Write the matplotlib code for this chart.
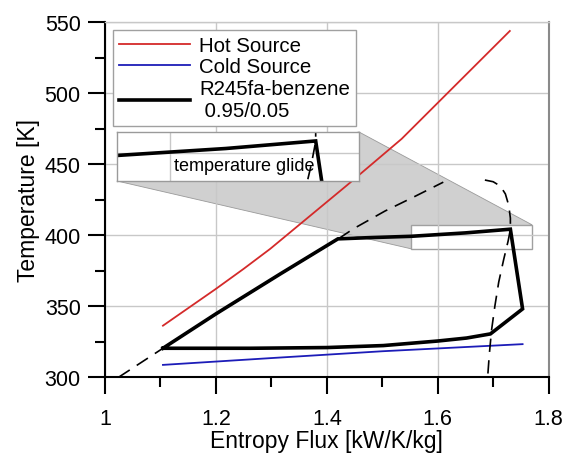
import numpy as np
import matplotlib
matplotlib.use("Agg")
from matplotlib import pyplot as plt
from matplotlib.patches import Polygon, Rectangle
from matplotlib.ticker import MultipleLocator

plt.rcParams['font.family'] = ['Liberation Sans', 'DejaVu Sans']

# hot source (red)
hot_s = [1.1045, 1.2, 1.25, 1.298, 1.436, 1.535, 1.73]
hot_t = [336.3, 362.2, 376.3, 390.4, 435.0, 467.8, 543.7]

# cold source (blue)
cold_s = [1.1045, 1.3, 1.5, 1.753]
cold_t = [308.7, 313.5, 318.3, 323.3]

# R245fa-benzene cycle
cyc_s = [1.1045, 1.2, 1.316, 1.42, 1.48, 1.552, 1.65, 1.731, 1.753, 1.695,
         1.652, 1.6, 1.502, 1.4, 1.262, 1.1045]
cyc_t = [320.4, 344.6, 372.7, 397.4, 398.3, 399.2, 401.6, 404.2, 348.1, 330.5,
         327.6, 325.5, 322.3, 320.9, 320.4, 320.4]

# saturation dome: liquid side and vapour side
liq_s = [1.0245, 1.1045, 1.2, 1.316, 1.42, 1.448, 1.505, 1.56, 1.61]
liq_t = [300.0, 320.4, 344.4, 372.5, 397.2, 404.5, 417.0, 427.5, 437.3]
vap_s = [1.685, 1.700, 1.713, 1.722, 1.728, 1.731, 1.731, 1.727, 1.719,
         1.710, 1.703, 1.697, 1.693, 1.690]
vap_t = [438.8, 437.6, 434.5, 429.0, 421.0, 412.0, 404.0, 396.0, 383.0,
         367.0, 350.0, 333.0, 316.0, 300.0]

zoom_x = (1.552, 1.770)
zoom_y = (390.4, 407.3)

red = '#d42a2a'
blue = '#1c1cb8'
grid_c = '#c8c8c8'

fig = plt.figure(figsize=(5.63, 4.56), dpi=100)
ax = fig.add_axes([0.1865, 0.1705, 0.788, 0.779])

ax.plot(hot_s, hot_t, color=red, lw=1.3, label='Hot Source')
ax.plot(cold_s, cold_t, color=blue, lw=1.3, label='Cold Source')
ax.plot(cyc_s, cyc_t, color='black', lw=2.6, solid_joinstyle='miter',
        label='R245fa-benzene\n 0.95/0.05')
ax.plot(liq_s, liq_t, color='black', lw=1.2, ls=(0, (8, 5)))
ax.plot(vap_s, vap_t, color='black', lw=1.2, ls=(0, (8, 5)))

ax.set_xlim(1, 1.8)
ax.set_ylim(300, 550)
ax.xaxis.set_minor_locator(MultipleLocator(0.1))
ax.yaxis.set_major_locator(MultipleLocator(50))
ax.yaxis.set_minor_locator(MultipleLocator(25))
ax.set_xticks([1, 1.2, 1.4, 1.6, 1.8])
ax.set_xticklabels(['1', '1.2', '1.4', '1.6', '1.8'])
ax.grid(True, which='major', color=grid_c, lw=1)
ax.tick_params(which='major', direction='out', length=12.5, width=1.5,
               labelsize=15.5)
ax.tick_params(which='minor', direction='out', length=7, width=1.5)
ax.tick_params(axis='x', pad=9.5)
ax.tick_params(axis='y', pad=5)
for side in ['left', 'bottom']:
    ax.spines[side].set_linewidth(1.5)
ax.spines['right'].set_color('#8a8a8a')
ax.spines['right'].set_linewidth(1.5)
ax.spines['top'].set_color(grid_c)
ax.spines['top'].set_linewidth(1)
ax.set_xlabel('Entropy Flux [kW/K/kg]', fontsize=16.5, labelpad=0)
ax.set_ylabel('Temperature [K]', fontsize=16.5, labelpad=3)

leg = ax.legend(loc='upper left', bbox_to_anchor=(0.017, 0.978),
                borderaxespad=0, fontsize=14.7, handlelength=3.5,
                labelspacing=0.12, fancybox=False, framealpha=1,
                edgecolor='#a0a0a0', borderpad=0.3, handletextpad=0.45)
leg.get_frame().set_linewidth(1)

# inset showing the temperature glide
axins = fig.add_axes([0.2078, 0.6009, 0.4298, 0.1075])
axins.plot(cyc_s, cyc_t, color='black', lw=2.6, solid_joinstyle='miter')
axins.plot(vap_s, vap_t, color='black', lw=1.2, ls=(0, (8, 5)))
axins.set_xlim(*zoom_x)
axins.set_ylim(*zoom_y)
axins.set_xticks([1.6])
axins.set_yticks([400])
axins.tick_params(length=0, labelbottom=False, labelleft=False)
axins.grid(True, color=grid_c, lw=1)
for sp in axins.spines.values():
    sp.set_color('#9a9a9a')
    sp.set_linewidth(1)
axins.text(1.603, 395.9, 'temperature glide', fontsize=13, va='center')

# zoom frame and connecting shade
rect = Rectangle((zoom_x[0], zoom_y[0]), zoom_x[1] - zoom_x[0],
                 zoom_y[1] - zoom_y[0], facecolor='white',
                 edgecolor='#a0a0a0', lw=1, zorder=0.3, clip_on=False)
ax.add_patch(rect)

to_fig = fig.transFigure.inverted()
p_ins = axins.transAxes.transform([(0, 0), (1, 1)])
p_rect = ax.transData.transform([(zoom_x[1], zoom_y[1]), (zoom_x[0], zoom_y[0])])
pts = to_fig.transform(np.vstack([p_ins, p_rect]))
shade = Polygon(pts, closed=True, transform=fig.transFigure,
                facecolor='#d0d0d0', edgecolor='#9a9a9a', lw=0.6,
                zorder=0.2, clip_on=False)
ax.add_patch(shade)

fig.savefig('out.png', dpi=100)
